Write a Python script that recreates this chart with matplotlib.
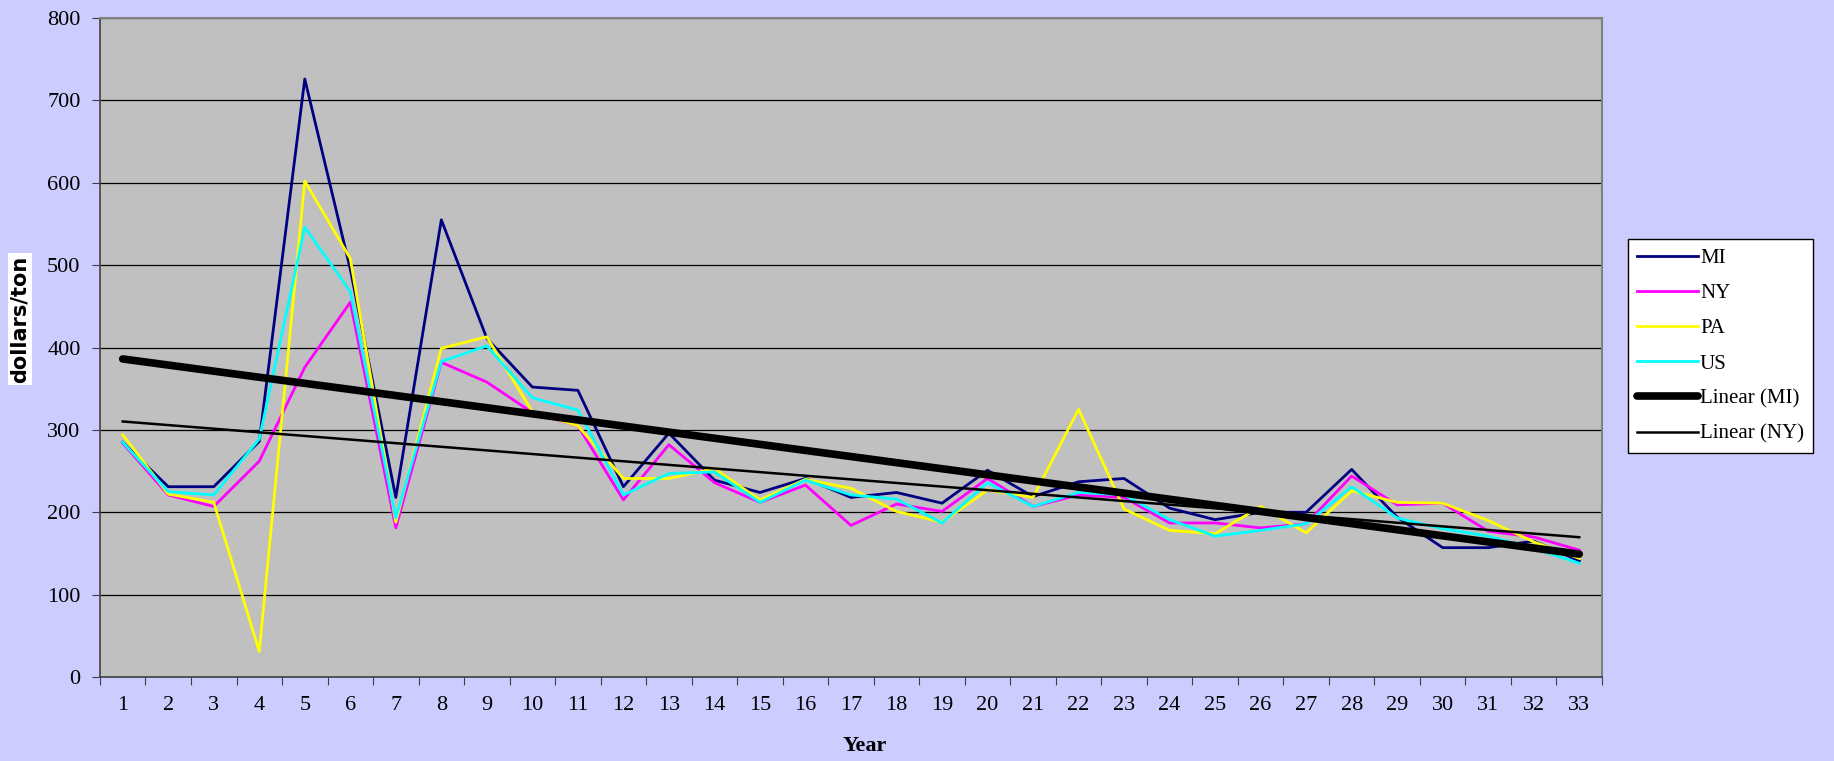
#!/usr/bin/env python3

import numpy as np
import matplotlib.pyplot as plt
from matplotlib.ticker import FixedLocator, NullFormatter

years = np.arange(1, 34)

mi = [285, 231, 231, 286, 726, 495, 218, 555, 411, 352, 348, 231, 296,
      239, 224, 241, 218, 224, 211, 251, 219, 237, 241, 205, 191, 200,
      200, 252, 194, 157, 157, 165, 141]
ny = [284, 221, 207, 262, 376, 455, 181, 382, 358, 321, 305, 215, 282,
      236, 212, 233, 184, 210, 201, 241, 207, 221, 218, 187, 187, 181,
      186, 244, 209, 211, 177, 170, 154]
pa = [294, 222, 212, 31, 602, 508, 188, 399, 413, 322, 305, 241, 241,
      253, 215, 240, 229, 201, 188, 227, 218, 325, 204, 178, 174, 207,
      175, 226, 212, 211, 190, 164, 144]
us = [285, 225, 221, 289, 546, 468, 193, 383, 402, 339, 324, 221, 247,
      249, 212, 239, 221, 216, 187, 236, 207, 224, 221, 191, 171, 178,
      186, 231, 193, 180, 171, 156, 138]

series = [("MI", mi, "#000080"), ("NY", ny, "#FF00FF"),
          ("PA", pa, "#FFFF00"), ("US", us, "#00FFFF")]

BG = "#CCCCFF"
SERIF = "Liberation Serif"


def trend(vals):
    k, b = np.polyfit(years, vals, 1)
    return k * years + b


def main():
    fig = plt.figure(figsize=(18.34, 7.61), dpi=100, facecolor=BG)
    ax = fig.add_axes([0.0545, 0.1104, 0.819, 0.8659])
    ax.set_facecolor("#C0C0C0")

    for name, vals, col in series:
        ax.plot(years, vals, color=col, lw=2.0, label=name, zorder=3)
    ax.plot(years, trend(mi), color="black", lw=5.5, solid_capstyle="round",
            label="Linear (MI)", zorder=4)
    ax.plot(years, trend(ny), color="black", lw=1.8, label="Linear (NY)",
            zorder=4)

    ax.set_xlim(0.5, 33.5)
    ax.set_ylim(0, 800)
    ax.set_yticks(range(0, 801, 100))
    ax.yaxis.grid(True, color="black", lw=0.9)
    ax.set_axisbelow(True)

    ax.xaxis.set_major_locator(FixedLocator(np.arange(0.5, 34, 1)))
    ax.xaxis.set_major_formatter(NullFormatter())
    ax.xaxis.set_minor_locator(FixedLocator(years))
    ax.set_xticklabels([str(y) for y in years], minor=True)
    ax.tick_params(axis="x", which="major", direction="out", length=6,
                   color="#404040")
    ax.tick_params(axis="x", which="minor", length=0, pad=14,
                   labelsize=16)
    ax.tick_params(axis="y", direction="out", length=6, color="#404040",
                   labelsize=16, pad=8)
    for lab in ax.get_xticklabels(minor=True) + ax.get_yticklabels():
        lab.set_fontfamily(SERIF)

    for s in ("top", "right"):
        ax.spines[s].set_color("#808080")
        ax.spines[s].set_linewidth(1.5)
    for s in ("left", "bottom"):
        ax.spines[s].set_color("#404040")
        ax.spines[s].set_linewidth(1.2)

    fig.text(865 / 1834, 1 - 746 / 761, "Year", ha="center", va="center",
             fontsize=16, fontweight="bold", family=SERIF)
    fig.text(20 / 1834, 1 - 319 / 761, "dollars/ton", rotation=90,
             ha="center", va="center", fontsize=15, fontweight="bold",
             family="DejaVu Sans",
             bbox=dict(facecolor="white", edgecolor="none", pad=1.5))

    leg = fig.legend(loc="upper left", bbox_to_anchor=(0.8877, 0.686),
                     fancybox=False, frameon=True, edgecolor="black",
                     facecolor="white", framealpha=1.0,
                     prop={"family": SERIF, "size": 15},
                     handlelength=2.9, handletextpad=0.1,
                     labelspacing=0.75, borderpad=0.45,
                     borderaxespad=0)
    leg.get_frame().set_linewidth(1.0)

    fig.savefig("out.png", dpi=100, facecolor=BG)


if __name__ == "__main__":
    main()
